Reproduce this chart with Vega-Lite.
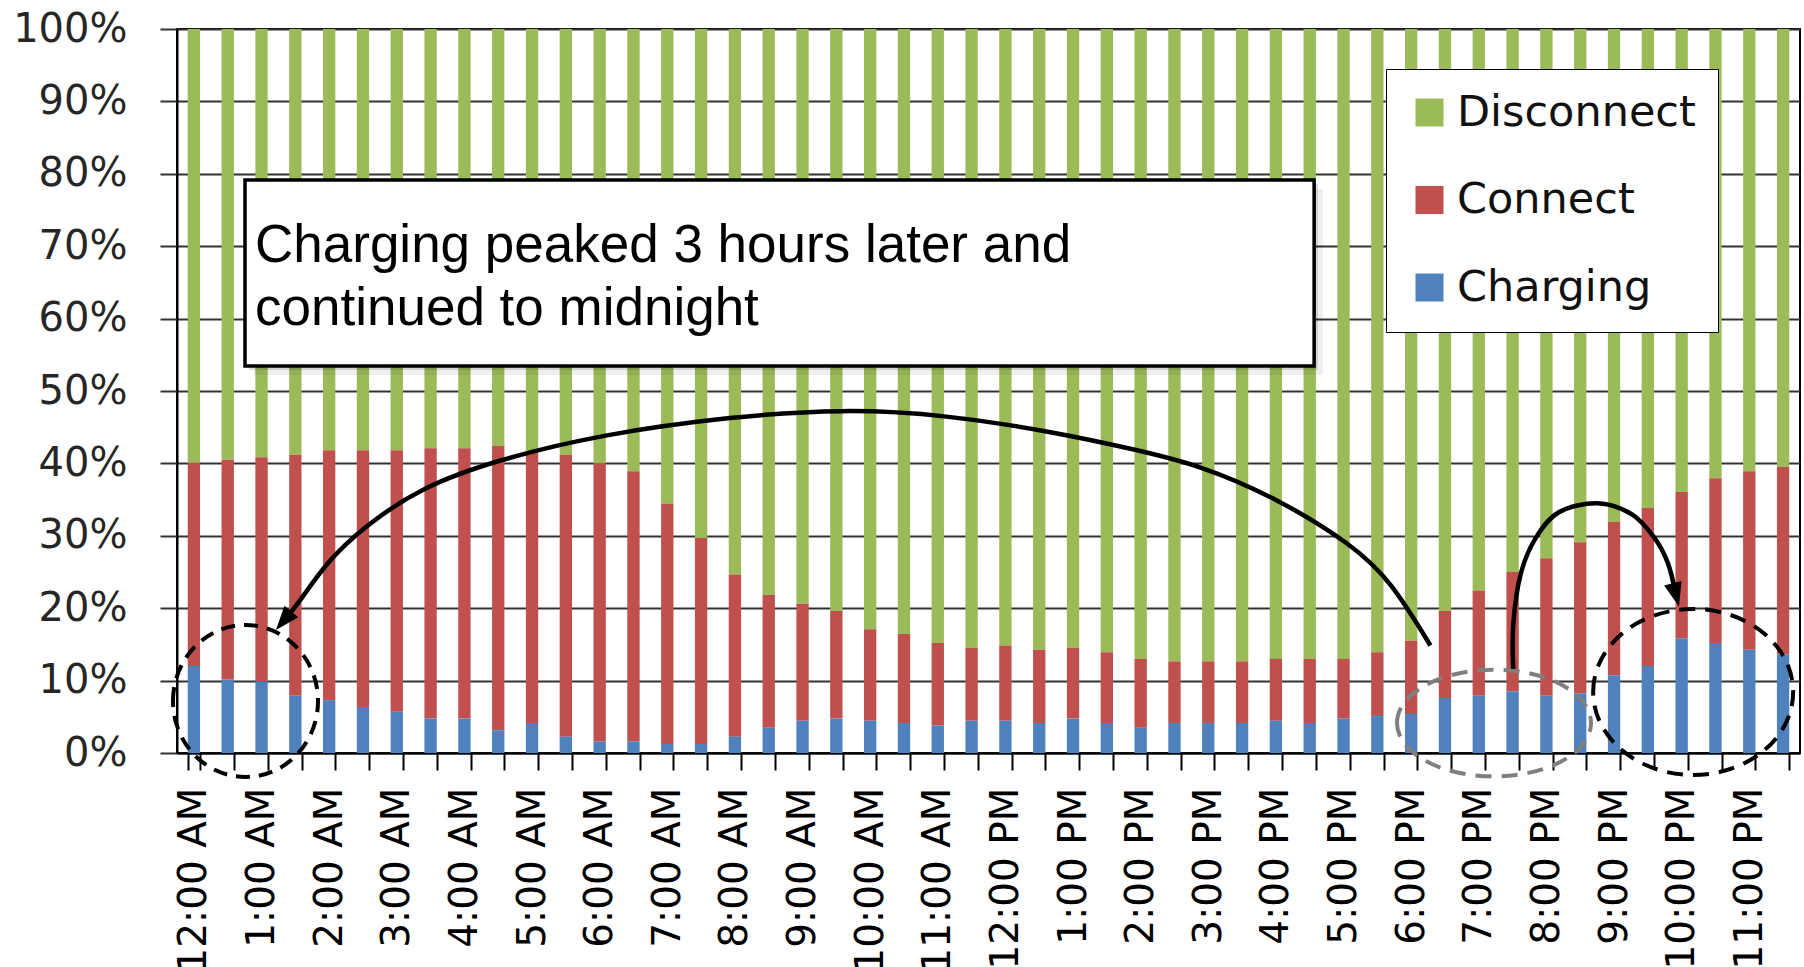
{
  "$schema": "https://vega.github.io/schema/vega-lite/v6.json",
  "width": 1623,
  "height": 724,
  "autosize": {"type": "none"},
  "padding": {"left": 177, "top": 29, "right": 4, "bottom": 214},
  "background": "white",
  "config": {"view": {"stroke": "#000", "strokeWidth": 2}},
  "datasets": {
    "bars": [
      {"t": "12:00 AM", "Charging": 12.0, "Connect": 28.1, "Disconnect": 59.9},
      {"t": "12:30 AM", "Charging": 10.15, "Connect": 30.35, "Disconnect": 59.5},
      {"t": "1:00 AM", "Charging": 9.9, "Connect": 30.95, "Disconnect": 59.15},
      {"t": "1:30 AM", "Charging": 7.9, "Connect": 33.3, "Disconnect": 58.8},
      {"t": "2:00 AM", "Charging": 7.3, "Connect": 34.5, "Disconnect": 58.2},
      {"t": "2:30 AM", "Charging": 6.35, "Connect": 35.45, "Disconnect": 58.2},
      {"t": "3:00 AM", "Charging": 5.7, "Connect": 36.1, "Disconnect": 58.2},
      {"t": "3:30 AM", "Charging": 4.75, "Connect": 37.35, "Disconnect": 57.9},
      {"t": "4:00 AM", "Charging": 4.75, "Connect": 37.35, "Disconnect": 57.9},
      {"t": "4:30 AM", "Charging": 3.15, "Connect": 39.25, "Disconnect": 57.6},
      {"t": "5:00 AM", "Charging": 4.15, "Connect": 37.6, "Disconnect": 58.25},
      {"t": "5:30 AM", "Charging": 2.25, "Connect": 38.95, "Disconnect": 58.8},
      {"t": "6:00 AM", "Charging": 1.6, "Connect": 38.45, "Disconnect": 59.95},
      {"t": "6:30 AM", "Charging": 1.6, "Connect": 37.3, "Disconnect": 61.1},
      {"t": "7:00 AM", "Charging": 1.25, "Connect": 33.2, "Disconnect": 65.55},
      {"t": "7:30 AM", "Charging": 1.25, "Connect": 28.45, "Disconnect": 70.3},
      {"t": "8:00 AM", "Charging": 2.25, "Connect": 22.4, "Disconnect": 75.35},
      {"t": "8:30 AM", "Charging": 3.5, "Connect": 18.35, "Disconnect": 78.15},
      {"t": "9:00 AM", "Charging": 4.45, "Connect": 16.15, "Disconnect": 79.4},
      {"t": "9:30 AM", "Charging": 4.75, "Connect": 14.85, "Disconnect": 80.4},
      {"t": "10:00 AM", "Charging": 4.45, "Connect": 12.65, "Disconnect": 82.9},
      {"t": "10:30 AM", "Charging": 4.15, "Connect": 12.3, "Disconnect": 83.55},
      {"t": "11:00 AM", "Charging": 3.8, "Connect": 11.4, "Disconnect": 84.8},
      {"t": "11:30 AM", "Charging": 4.45, "Connect": 10.1, "Disconnect": 85.45},
      {"t": "12:00 PM", "Charging": 4.45, "Connect": 10.4, "Disconnect": 85.15},
      {"t": "12:30 PM", "Charging": 4.15, "Connect": 10.1, "Disconnect": 85.75},
      {"t": "1:00 PM", "Charging": 4.75, "Connect": 9.8, "Disconnect": 85.45},
      {"t": "1:30 PM", "Charging": 4.15, "Connect": 9.75, "Disconnect": 86.1},
      {"t": "2:00 PM", "Charging": 3.5, "Connect": 9.5, "Disconnect": 87.0},
      {"t": "2:30 PM", "Charging": 4.15, "Connect": 8.5, "Disconnect": 87.35},
      {"t": "3:00 PM", "Charging": 4.15, "Connect": 8.5, "Disconnect": 87.35},
      {"t": "3:30 PM", "Charging": 4.15, "Connect": 8.5, "Disconnect": 87.35},
      {"t": "4:00 PM", "Charging": 4.45, "Connect": 8.55, "Disconnect": 87.0},
      {"t": "4:30 PM", "Charging": 4.15, "Connect": 8.85, "Disconnect": 87.0},
      {"t": "5:00 PM", "Charging": 4.75, "Connect": 8.25, "Disconnect": 87.0},
      {"t": "5:30 PM", "Charging": 5.1, "Connect": 8.8, "Disconnect": 86.1},
      {"t": "6:00 PM", "Charging": 5.4, "Connect": 10.1, "Disconnect": 84.5},
      {"t": "6:30 PM", "Charging": 7.6, "Connect": 12.0, "Disconnect": 80.4},
      {"t": "7:00 PM", "Charging": 7.9, "Connect": 14.55, "Disconnect": 77.55},
      {"t": "7:30 PM", "Charging": 8.5, "Connect": 16.5, "Disconnect": 75.0},
      {"t": "8:00 PM", "Charging": 7.9, "Connect": 19.0, "Disconnect": 73.1},
      {"t": "8:30 PM", "Charging": 8.25, "Connect": 20.85, "Disconnect": 70.9},
      {"t": "9:00 PM", "Charging": 10.75, "Connect": 21.2, "Disconnect": 68.05},
      {"t": "9:30 PM", "Charging": 12.0, "Connect": 21.85, "Disconnect": 66.15},
      {"t": "10:00 PM", "Charging": 15.85, "Connect": 20.2, "Disconnect": 63.95},
      {"t": "10:30 PM", "Charging": 15.2, "Connect": 22.75, "Disconnect": 62.05},
      {"t": "11:00 PM", "Charging": 14.25, "Connect": 24.65, "Disconnect": 61.1},
      {"t": "11:30 PM", "Charging": 13.6, "Connect": 25.95, "Disconnect": 60.45}
    ],
    "box": [{"u": 2.011, "u2": 33.63, "p": 79.14, "p2": 53.45}],
    "boxText": [
      {"u": 2.307, "p": 67.86, "text": "Charging peaked 3 hours later and"},
      {"u": 2.307, "p": 59.12, "text": "continued to midnight"}
    ],
    "arc1": [
      {"k": 0, "u": 37.07, "p": 14.85},
      {"k": 1, "u": 35.9, "p": 23.76},
      {"k": 2, "u": 34.77, "p": 28.76},
      {"k": 3, "u": 32.51, "p": 35.25},
      {"k": 4, "u": 30.26, "p": 39.75},
      {"k": 5, "u": 28.32, "p": 41.92},
      {"k": 6, "u": 26.06, "p": 44.25},
      {"k": 7, "u": 22.67, "p": 46.75},
      {"k": 8, "u": 19.74, "p": 47.51},
      {"k": 9, "u": 16.46, "p": 46.51},
      {"k": 10, "u": 12.53, "p": 44.0},
      {"k": 11, "u": 9.49, "p": 40.51},
      {"k": 12, "u": 7.23, "p": 36.75},
      {"k": 13, "u": 5.53, "p": 31.26},
      {"k": 14, "u": 4.4, "p": 26.26},
      {"k": 15, "u": 3.61, "p": 20.76},
      {"k": 16, "u": 3.154, "p": 18.27}
    ],
    "arc2": [
      {"k": 0, "u": 39.52, "p": 11.26},
      {"k": 1, "u": 39.52, "p": 17.75},
      {"k": 2, "u": 39.74, "p": 24.75},
      {"k": 3, "u": 40.19, "p": 29.75},
      {"k": 4, "u": 40.87, "p": 33.26},
      {"k": 5, "u": 42.0, "p": 34.5},
      {"k": 6, "u": 43.02, "p": 33.0},
      {"k": 7, "u": 43.69, "p": 29.75},
      {"k": 8, "u": 44.09, "p": 26.26},
      {"k": 9, "u": 44.33, "p": 21.85}
    ],
    "head1": [{"u": 3.154, "p": 18.27}],
    "head2": [{"u": 44.33, "p": 21.85}],
    "ellA": [{"u": 2.026, "p": 7.18}],
    "ellB": [{"u": 38.95, "p": 4.14}],
    "ellC": [{"u": 44.84, "p": 8.43}]
  },
  "layer": [
    {
      "data": {"name": "bars"},
      "transform": [{"fold": ["Disconnect", "Connect", "Charging"], "as": ["series", "value"]}],
      "mark": {"type": "bar"},
      "encoding": {
        "x": {
          "field": "t", "type": "ordinal", "sort": null,
          "scale": {"paddingInner": 0.635, "paddingOuter": 0.3175},
          "axis": {
            "title": null, "labelAngle": -90,
            "labelExpr": "indexof(datum.label, ':00') >= 0 ? datum.label : ''",
            "labelFont": "DejaVu Sans", "labelFontSize": 39, "labelColor": "#000",
            "labelPadding": 17, "labelLimit": 600, "labelOverlap": false,
            "tickSize": 17, "tickColor": "#000", "tickWidth": 2, "tickBand": "extent",
            "domainColor": "#000", "domainWidth": 2, "grid": false
          }
        },
        "y": {
          "field": "value", "type": "quantitative", "stack": "zero",
          "scale": {"domain": [0, 100], "nice": false},
          "axis": {
            "title": null, "values": [0, 10, 20, 30, 40, 50, 60, 70, 80, 90, 100],
            "labelExpr": "datum.value + '%'",
            "labelFont": "DejaVu Sans", "labelFontSize": 40, "labelColor": "#262626",
            "labelPadding": 33, "tickSize": 17, "tickColor": "#333", "tickWidth": 2,
            "domainColor": "#000", "domainWidth": 2,
            "grid": true, "gridColor": "#333", "gridWidth": 2
          }
        },
        "color": {
          "field": "series", "type": "nominal",
          "scale": {"domain": ["Disconnect", "Connect", "Charging"], "range": ["#9BBB59", "#C0504D", "#4F81BD"]},
          "legend": {
            "title": null, "orient": "none", "legendX": 1209, "legendY": 40,
            "direction": "vertical", "fillColor": "#fff", "strokeColor": "#000",
            "padding": 22, "symbolType": "square", "symbolSize": 784, "symbolStrokeWidth": 0,
            "symbolOpacity": 1,
            "labelFont": "DejaVu Sans", "labelFontSize": 43, "labelColor": "#111",
            "labelOffset": 6, "rowPadding": 43.5, "labelLimit": 600
          }
        },
        "order": {"field": "series", "sort": "ascending"}
      }
    },
    {
      "data": {"name": "box"},
      "mark": {"type": "rect", "fill": "#000", "opacity": 0.06, "xOffset": 9, "x2Offset": 9, "yOffset": 9, "y2Offset": 9},
      "encoding": {
        "x": {"field": "u", "type": "quantitative", "scale": {"domain": [0, 48], "nice": false, "zero": false}, "axis": null},
        "x2": {"field": "u2"},
        "y": {"field": "p", "type": "quantitative", "scale": {"domain": [0, 100], "nice": false}, "axis": null},
        "y2": {"field": "p2"}
      }
    },
    {
      "data": {"name": "box"},
      "mark": {"type": "rect", "fill": "#000", "opacity": 0.12, "xOffset": 4, "x2Offset": 4, "yOffset": 4, "y2Offset": 4},
      "encoding": {
        "x": {"field": "u", "type": "quantitative", "scale": {"domain": [0, 48], "nice": false, "zero": false}, "axis": null},
        "x2": {"field": "u2"},
        "y": {"field": "p", "type": "quantitative", "scale": {"domain": [0, 100], "nice": false}, "axis": null},
        "y2": {"field": "p2"}
      }
    },
    {
      "data": {"name": "box"},
      "mark": {"type": "rect", "fill": "#fff", "stroke": "#000", "strokeWidth": 3.5},
      "encoding": {
        "x": {"field": "u", "type": "quantitative", "scale": {"domain": [0, 48], "nice": false, "zero": false}, "axis": null},
        "x2": {"field": "u2"},
        "y": {"field": "p", "type": "quantitative", "scale": {"domain": [0, 100], "nice": false}, "axis": null},
        "y2": {"field": "p2"}
      }
    },
    {
      "data": {"name": "boxText"},
      "mark": {"type": "text", "align": "left", "baseline": "alphabetic", "font": "Liberation Sans", "fontSize": 53, "color": "#000"},
      "encoding": {
        "x": {"field": "u", "type": "quantitative", "scale": {"domain": [0, 48], "nice": false, "zero": false}, "axis": null},
        "y": {"field": "p", "type": "quantitative", "scale": {"domain": [0, 100], "nice": false}, "axis": null},
        "text": {"field": "text"}
      }
    },
    {
      "data": {"name": "arc1"},
      "mark": {"type": "line", "color": "#000", "strokeWidth": 4.5, "interpolate": "basis"},
      "encoding": {
        "x": {"field": "u", "type": "quantitative", "scale": {"domain": [0, 48], "nice": false, "zero": false}, "axis": null},
        "y": {"field": "p", "type": "quantitative", "scale": {"domain": [0, 100], "nice": false}, "axis": null},
        "order": {"field": "k"}
      }
    },
    {
      "data": {"name": "arc2"},
      "mark": {"type": "line", "color": "#000", "strokeWidth": 4.5, "interpolate": "cardinal"},
      "encoding": {
        "x": {"field": "u", "type": "quantitative", "scale": {"domain": [0, 48], "nice": false, "zero": false}, "axis": null},
        "y": {"field": "p", "type": "quantitative", "scale": {"domain": [0, 100], "nice": false}, "axis": null},
        "order": {"field": "k"}
      }
    },
    {
      "data": {"name": "head1"},
      "mark": {"type": "point", "shape": "M0,-1L0.75,1L-0.75,1Z", "size": 576, "filled": true, "color": "#000", "opacity": 1, "angle": 220},
      "encoding": {
        "x": {"field": "u", "type": "quantitative", "scale": {"domain": [0, 48], "nice": false, "zero": false}, "axis": null},
        "y": {"field": "p", "type": "quantitative", "scale": {"domain": [0, 100], "nice": false}, "axis": null}
      }
    },
    {
      "data": {"name": "head2"},
      "mark": {"type": "point", "shape": "M0,-1L0.75,1L-0.75,1Z", "size": 576, "filled": true, "color": "#000", "opacity": 1, "angle": 165.3},
      "encoding": {
        "x": {"field": "u", "type": "quantitative", "scale": {"domain": [0, 48], "nice": false, "zero": false}, "axis": null},
        "y": {"field": "p", "type": "quantitative", "scale": {"domain": [0, 100], "nice": false}, "axis": null}
      }
    },
    {
      "data": {"name": "ellA"},
      "mark": {"type": "point", "shape": "M-1,0C-1,-0.579,-0.552,-1.048,0,-1.048C0.552,-1.048,1,-0.579,1,0C1,0.579,0.552,1.048,0,1.048C-0.552,1.048,-1,0.579,-1,0Z", "size": 21025, "filled": false, "color": "#000", "opacity": 1, "strokeWidth": 4, "strokeDash": [14, 9]},
      "encoding": {
        "x": {"field": "u", "type": "quantitative", "scale": {"domain": [0, 48], "nice": false, "zero": false}, "axis": null},
        "y": {"field": "p", "type": "quantitative", "scale": {"domain": [0, 100], "nice": false}, "axis": null}
      }
    },
    {
      "data": {"name": "ellB"},
      "mark": {"type": "point", "shape": "M-1,0C-1,-0.304,-0.552,-0.55,0,-0.55C0.552,-0.55,1,-0.304,1,0C1,0.304,0.552,0.55,0,0.55C-0.552,0.55,-1,0.304,-1,0Z", "size": 37636, "filled": false, "color": "#7f7f7f", "opacity": 1, "strokeWidth": 4, "strokeDash": [16, 10]},
      "encoding": {
        "x": {"field": "u", "type": "quantitative", "scale": {"domain": [0, 48], "nice": false, "zero": false}, "axis": null},
        "y": {"field": "p", "type": "quantitative", "scale": {"domain": [0, 100], "nice": false}, "axis": null}
      }
    },
    {
      "data": {"name": "ellC"},
      "mark": {"type": "point", "shape": "M-1,0C-1,-0.458,-0.552,-0.83,0,-0.83C0.552,-0.83,1,-0.458,1,0C1,0.458,0.552,0.83,0,0.83C-0.552,0.83,-1,0.458,-1,0Z", "size": 40000, "filled": false, "color": "#000", "opacity": 1, "strokeWidth": 4, "strokeDash": [16, 10]},
      "encoding": {
        "x": {"field": "u", "type": "quantitative", "scale": {"domain": [0, 48], "nice": false, "zero": false}, "axis": null},
        "y": {"field": "p", "type": "quantitative", "scale": {"domain": [0, 100], "nice": false}, "axis": null}
      }
    }
  ],
  "resolve": {"scale": {"x": "independent", "y": "independent"}, "axis": {"x": "independent", "y": "independent"}}
}
